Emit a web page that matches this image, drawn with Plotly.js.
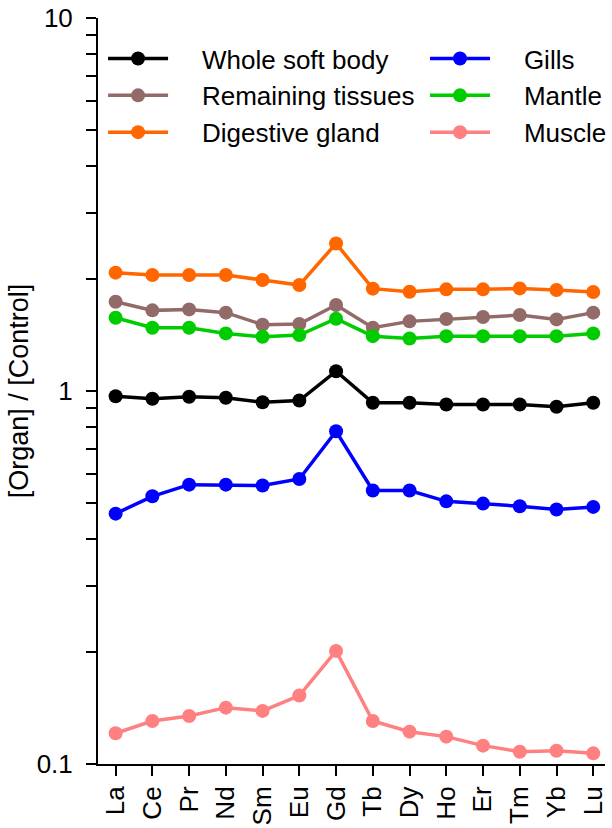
<!DOCTYPE html>
<html>
<head>
<meta charset="utf-8">
<script src="https://cdn.plot.ly/plotly-3.0.1.min.js"></script>
<style>html,body{margin:0;padding:0;background:#fff;}#chart{width:612px;height:828px;}</style>
</head>
<body>
<div id="chart"></div>
<script>
const elements = ["La","Ce","Pr","Nd","Sm","Eu","Gd","Tb","Dy","Ho","Er","Tm","Yb","Lu"];

const wholeSoftBody     = [0.968,0.953,0.965,0.959,0.933,0.943,1.130,0.930,0.930,0.920,0.920,0.920,0.907,0.930];
const remainingTissues  = [1.735,1.645,1.655,1.622,1.506,1.512,1.700,1.478,1.537,1.559,1.579,1.598,1.556,1.622];
const digestiveGland    = [2.076,2.046,2.046,2.046,1.984,1.923,2.486,1.881,1.846,1.873,1.873,1.884,1.865,1.842];
const gills             = [0.469,0.522,0.561,0.561,0.558,0.581,0.780,0.541,0.541,0.506,0.499,0.491,0.481,0.489];
const mantle            = [1.572,1.478,1.478,1.427,1.398,1.412,1.562,1.403,1.383,1.403,1.403,1.403,1.403,1.427];
const muscle            = [0.1209,0.1304,0.1345,0.1416,0.1388,0.1526,0.2010,0.1304,0.1221,0.1184,0.1120,0.1079,0.1085,0.1068];

const seriesNames = ["Whole soft body","Remaining tissues","Digestive gland","Gills","Mantle","Muscle"];

const yTickVals = [0.1,0.2,0.3,0.4,0.5,0.6,0.7,0.8,0.9,1,2,3,4,5,6,7,8,9,10];
const yTickText = ["0.1","","","","","","","","","1","","","","","","","","","10"];

const yTitle = "[Organ] / [Control]";

const FONT = "Liberation Sans, Arial, Helvetica, sans-serif";
const FS = 26;
const PAD = "\u00a0\u00a0\u00a0\u00a0";

function series(name, y, color, legend) {
  return {
    type: "scatter", mode: "lines+markers",
    x: elements, y: y, name: PAD + name,
    legend: legend, legendgroup: name,
    line: {color: color, width: 3.5},
    marker: {color: color, size: 14},
    cliponaxis: false
  };
}

const data = [
  series(seriesNames[0], wholeSoftBody, "#000000", "legend"),
  series(seriesNames[1], remainingTissues, "#926b69", "legend"),
  series(seriesNames[2], digestiveGland, "#ff6600", "legend"),
  series(seriesNames[3], gills, "#0000ff", "legend2"),
  series(seriesNames[4], mantle, "#00cc00", "legend2"),
  series(seriesNames[5], muscle, "#ff8080", "legend2")
];

const legendCommon = {
  orientation: "v",
  bgcolor: "rgba(0,0,0,0)",
  borderwidth: 0,
  font: {family: FONT, size: FS, color: "#000"},
  itemwidth: 60,
  tracegroupgap: 4,
  xanchor: "left", yanchor: "top",
  traceorder: "normal"
};

const layout = {
  width: 612, height: 828,
  margin: {l: 98, r: 0, t: 18, b: 64, pad: 0},
  paper_bgcolor: "#fff", plot_bgcolor: "#fff",
  font: {family: FONT, size: FS, color: "#000"},
  showlegend: true,
  legend: Object.assign({}, legendCommon, {x: 0.01, y: 0.977}),
  legend2: Object.assign({}, legendCommon, {x: 0.645, y: 0.977}),
  xaxis: {
    type: "category",
    range: [-0.48, 13.32],
    showgrid: false, zeroline: false,
    showline: true, linecolor: "#000", linewidth: 2,
    ticks: "outside", ticklen: 10, tickwidth: 2, tickcolor: "#000",
    tickangle: -90,
    tickfont: {family: FONT, size: FS, color: "#000"}
  },
  yaxis: {
    type: "log",
    range: [-1, 1],
    showgrid: false, zeroline: false,
    showline: true, linecolor: "#000", linewidth: 2,
    ticks: "outside", ticklen: 10, tickwidth: 2, tickcolor: "#000",
    tickmode: "array", tickvals: yTickVals, ticktext: yTickText,
    ticklabelstandoff: 8,
    tickfont: {family: FONT, size: FS, color: "#000"},
    title: {text: PAD + yTitle, font: {family: FONT, size: 27, color: "#000"}, standoff: 0}
  }
};

Plotly.newPlot("chart", data, layout, {displayModeBar: false, staticPlot: true});
</script>
</body>
</html>
